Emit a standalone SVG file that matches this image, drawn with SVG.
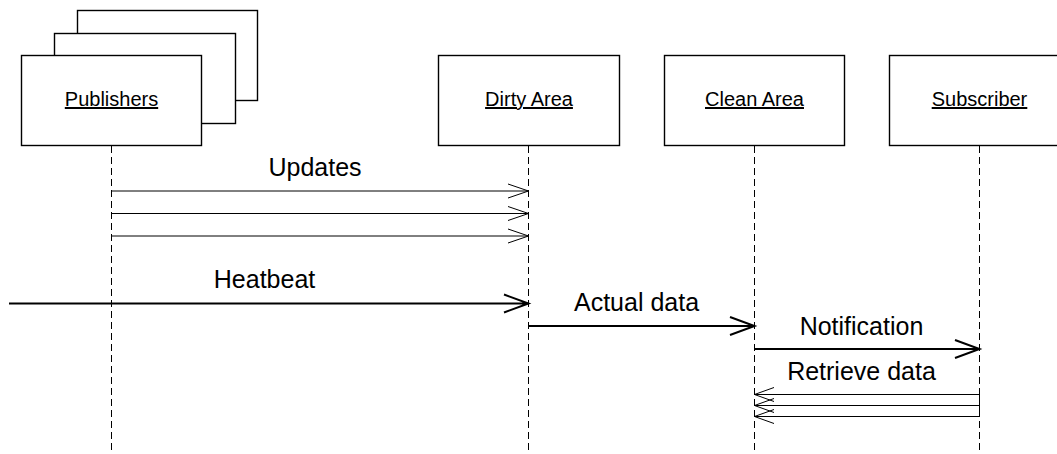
<svg xmlns="http://www.w3.org/2000/svg" width="1057" height="454" viewBox="0 0 1057 454">
<style>
.box{fill:#fff;stroke:#000;stroke-width:1.4}
.nl{font-family:"Liberation Sans",Arial,sans-serif;font-size:20px;text-anchor:middle;text-decoration:underline;fill:#000}
.ml{font-family:"Liberation Sans",Arial,sans-serif;font-size:25px;text-anchor:middle;fill:#000}
.life{stroke:#000;stroke-width:1;stroke-dasharray:7 4;fill:none}
.thin{stroke:#000;stroke-width:1;fill:none}
.thick{stroke:#000;stroke-width:2;fill:none}
</style>
<rect width="1057" height="454" fill="#fff"/>
<g id="lifelines">
<line class="life" x1="111.5" y1="146" x2="111.5" y2="454"/>
<line class="life" x1="528.5" y1="146" x2="528.5" y2="454"/>
<line class="life" x1="754.5" y1="146" x2="754.5" y2="454"/>
<line class="life" x1="979.5" y1="146" x2="979.5" y2="454"/>
</g>
<g id="publishers">
<rect class="box" x="77.5" y="10.5" width="180" height="90"/>
<rect class="box" x="54.5" y="33.5" width="181" height="90"/>
<rect class="box" x="21.5" y="55.5" width="180" height="90"/>
<text class="nl" x="111.5" y="106">Publishers</text>
</g>
<g id="dirty-area">
<rect class="box" x="438.5" y="55.5" width="181" height="90"/>
<text class="nl" x="529" y="106">Dirty Area</text>
</g>
<g id="clean-area">
<rect class="box" x="664.5" y="55.5" width="180" height="90"/>
<text class="nl" x="754.5" y="106">Clean Area</text>
</g>
<g id="subscriber">
<rect class="box" x="889.5" y="55.5" width="181" height="90"/>
<text class="nl" x="979.5" y="106">Subscriber</text>
</g>
<g id="connectors">
<text class="ml" x="315" y="176">Updates</text>
<path class="thin" d="M111.5 191H528.5M508 184L528.5 191L508 198"/>
<path class="thin" d="M111.5 213.5H528.5M508 206.5L528.5 213.5L508 220.5"/>
<path class="thin" d="M111.5 236H528.5M508 229L528.5 236L508 243"/>
<text class="ml" x="264.5" y="288">Heatbeat</text>
<path class="thick" d="M9 303.5H528.5M504 294.5L528.5 303.5L504 312.5"/>
<text class="ml" x="636.5" y="311">Actual data</text>
<path class="thick" d="M528.5 326H754.5M730 317L754.5 326L730 335"/>
<text class="ml" x="861.5" y="334.5">Notification</text>
<path class="thick" d="M754.5 349H979.5M955 340L979.5 349L955 358"/>
<text class="ml" x="861.5" y="379.5">Retrieve data</text>
<path class="thin" d="M979.5 394.5H754.5M774 387.5L754.5 394.5L774 401.5"/>
<path class="thin" d="M979.5 405.5H754.5M774 398.5L754.5 405.5L774 412.5"/>
<path class="thin" d="M979.5 416.5H754.5M774 409.5L754.5 416.5L774 423.5"/>
<line class="thin" x1="979.5" y1="394" x2="979.5" y2="417"/>
</g>
</svg>
